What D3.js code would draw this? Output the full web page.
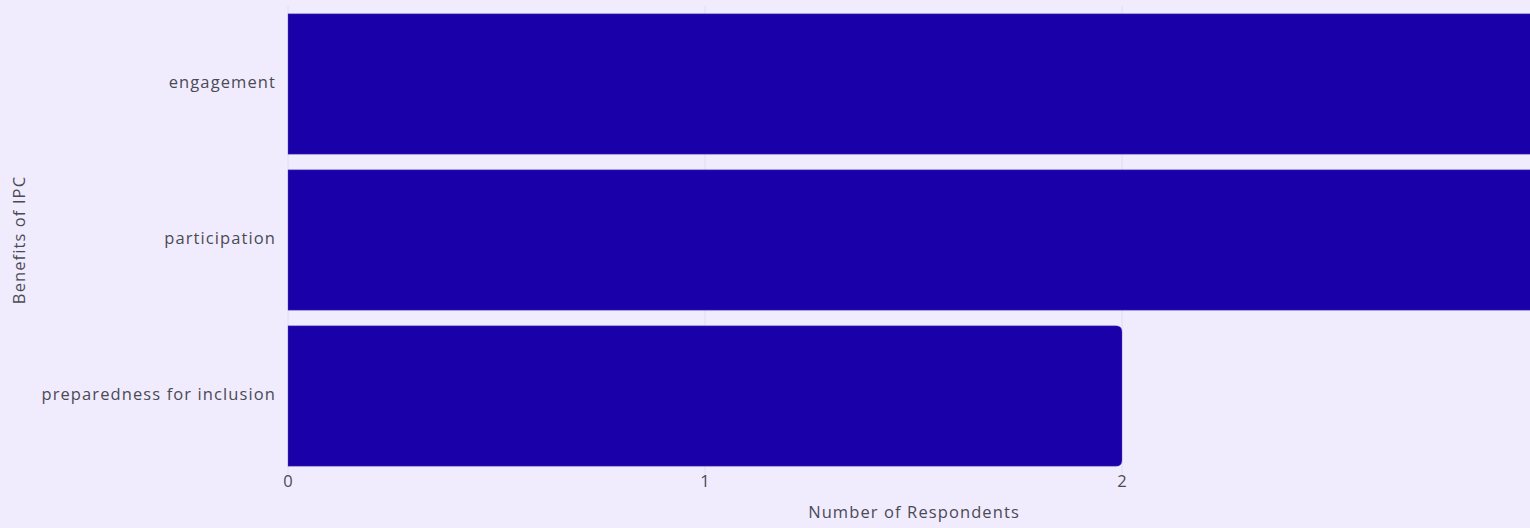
<!DOCTYPE html>
<html>
<head>
<meta charset="utf-8">
<script src="https://cdn.jsdelivr.net/npm/d3@7"></script>
<style>
  html, body { margin: 0; padding: 0; background: #f1ecfd; }
  svg { display: block; }
</style>
</head>
<body>
<svg id="chart" width="1530" height="528"></svg>
<script>
const categories = ["engagement", "participation", "preparedness for inclusion"];
const values = [3, 3, 2];
const xTicks = [0, 1, 2];
const xTitle = "Number of Respondents";
const yTitle = "Benefits of IPC";

const W = 1530, H = 528;
const svg = d3.select("#chart");
svg.append("rect").attr("width", W).attr("height", H).attr("fill", "#f1ecfd");

const x = d3.scaleLinear().domain([0, 3]).range([288, 1539]);
const y = d3.scaleBand().domain(categories).range([6, 474]).paddingInner(0.1).paddingOuter(0.05);

const font = "'Open Sans', sans-serif";
const fs = 16.5, ls = 1.1;

// grid
svg.append("g").selectAll("line").data(xTicks).join("line")
  .attr("x1", d => x(d)).attr("x2", d => x(d))
  .attr("y1", 6).attr("y2", 474)
  .attr("stroke", "#e2dcee").attr("stroke-width", 1);

// bars with rounded right corners
const r = 6;
function barPath(d, i) {
  const x0 = x(0), x1 = x(d), y0 = y(categories[i]), h = y.bandwidth();
  return `M${x0},${y0} H${x1 - r} Q${x1},${y0} ${x1},${y0 + r} V${y0 + h - r} Q${x1},${y0 + h} ${x1 - r},${y0 + h} H${x0} Z`;
}
svg.append("g").selectAll("path").data(values).join("path")
  .attr("d", barPath)
  .attr("fill", "#1a00a9")
  .attr("stroke", "#6c5cc4").attr("stroke-width", 0.6).attr("stroke-opacity", 0.6);

function styleText(sel) {
  sel.attr("font-family", font).attr("font-size", fs).attr("letter-spacing", ls).attr("fill", "#4a4a55");
}

// y axis labels
const yAxis = d3.axisLeft(y).tickSize(0).tickPadding(12);
const gy = svg.append("g").attr("transform", "translate(288,0)").call(yAxis);
gy.select(".domain").remove();
gy.selectAll("text").call(styleText).attr("dy", "0.25em");

// x axis labels
const xAxis = d3.axisBottom(x).tickValues(xTicks).tickFormat(d3.format("d")).tickSize(0).tickPadding(1);
const gx = svg.append("g").attr("transform", "translate(0,474)").call(xAxis);
gx.select(".domain").remove();
gx.selectAll("text").call(styleText);

// titles
svg.append("text").attr("x", 914).attr("y", 518).attr("text-anchor", "middle").call(styleText).text(xTitle);
svg.append("text").attr("transform", "translate(25,240) rotate(-90)").attr("text-anchor", "middle").call(styleText).text(yTitle);
</script>
</body>
</html>
